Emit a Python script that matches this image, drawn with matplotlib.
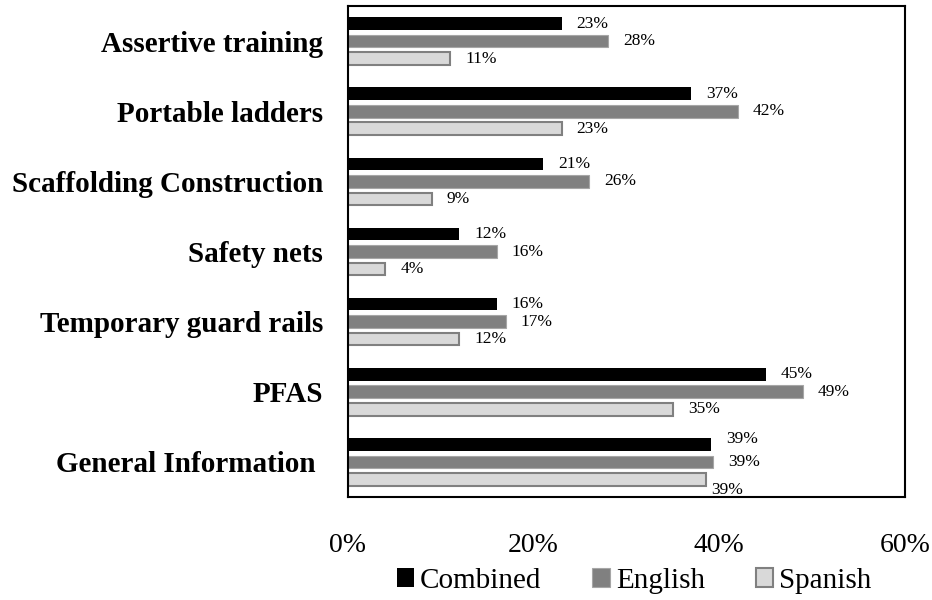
import matplotlib
matplotlib.use("Agg")
import matplotlib.pyplot as plt
import numpy as np

categories = ["Assertive training", "Portable ladders", "Scaffolding Construction",
              "Safety nets", "Temporary guard rails", "PFAS", "General Information "]
combined = [23, 37, 21, 12, 16, 45, 39.1]
english = [28, 42, 26, 16, 17, 49, 39.3]
spanish = [11, 23, 9, 4, 12, 35, 38.6]
series_names = ["Combined", "English", "Spanish"]
xticks = [0, 20, 40, 60]
xtick_labels = ["0%", "20%", "40%", "60%"]

plt.rcParams["font.family"] = ["Liberation Serif", "DejaVu Serif"]

fig = plt.figure(figsize=(9.32, 6.0), dpi=100)
ax = fig.add_axes([348/932, 1-497/600, 557/932, 491/600])

n = len(categories)
ypos = np.arange(n)
off = 0.25
h = 0.18
styles = [
    dict(color="#000000", edgecolor="#000000", linewidth=0),
    dict(color="#808080", edgecolor="#a6a6a6", linewidth=0.8),
    dict(color="#d9d9d9", edgecolor="#808080", linewidth=1.5),
]
data = [combined, english, spanish]
handles = []
for i, (vals, st) in enumerate(zip(data, styles)):
    y = ypos + (i - 1) * off
    b = ax.barh(y, vals, height=h, label=series_names[i], **st)
    handles.append(b)
    for j, (yy, v) in enumerate(zip(y, vals)):
        dx, dy = 15, 0
        if j == n - 1:
            if i == 0:
                dy = 5
            elif i == 2:
                dx, dy = 5, -11
        ax.annotate(f"{round(v):d}%", (v, yy), xytext=(dx, dy), textcoords="offset pixels",
                    ha="left", va="center", fontsize=12.5)

ax.set_xlim(0, 60)
ax.set_ylim(n - 0.5, -0.5)
ax.set_xticks(xticks)
ax.set_xticklabels(xtick_labels, fontsize=20)
ax.set_yticks(ypos)
ax.set_yticklabels(categories, fontsize=21, fontweight="bold")
ax.tick_params(axis="x", length=0, pad=26)
ax.tick_params(axis="y", length=0, pad=18)
for s in ax.spines.values():
    s.set_linewidth(1.5)
    s.set_color("black")

fig.legend(handles=handles, labels=series_names, loc="center", ncol=3,
           bbox_to_anchor=(634/932, 1-581/600), frameon=False, fontsize=21,
           handlelength=0.6, handleheight=0.6, handletextpad=0.2, columnspacing=1.75)

fig.savefig("out.png", dpi=100)
